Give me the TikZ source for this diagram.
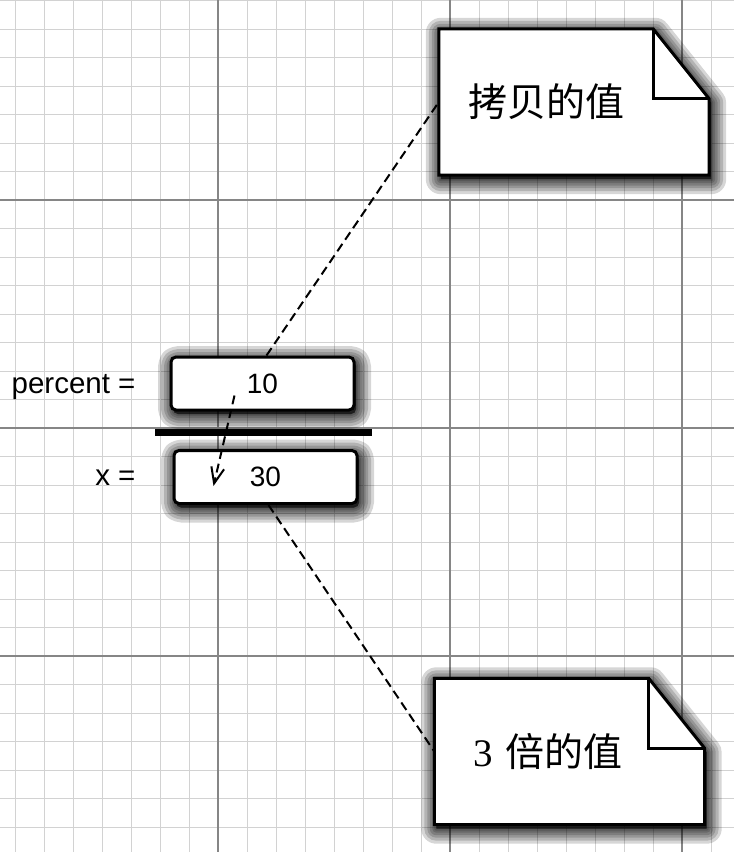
\documentclass[tikz,border=0pt]{standalone}
\usepackage{fontspec}
\setmainfont{Liberation Sans}
\newfontfamily\cjkfont{Noto Sans CJK SC}
\newfontfamily\digitfont{Liberation Serif}
\usepackage{tikz}
\usetikzlibrary{backgrounds,arrows.meta}

\begin{document}
\begin{tikzpicture}[x=1pt,y=-1pt,
halo/.style={preaction={draw=black,fill=black,line width=#1,line join=round,opacity=.16,transform canvas={shift={(2pt,-4pt)}}}},
boxshadow/.style={halo=30pt,halo=24pt,halo=18pt,halo=13pt,halo=8pt,halo=4pt},
valbox/.style={draw,line width=3pt,rounded corners=5pt,fill=white,minimum width=183pt,minimum height=53pt,font=\fontsize{28}{32}\selectfont,boxshadow},
notebox/.style={minimum width=270pt,minimum height=146pt,inner xsep=29pt,text width=212pt,align=left,font=\cjkfont\fontsize{39}{44}\selectfont},
noteline/.style={draw,line width=3pt,fill=white,boxshadow},
link/.style={line width=2pt,dash pattern=on 9pt off 5pt},
minorline/.style={color=gray!35,line width=1pt},
majorline/.style={color=gray!95,line width=1.6pt}
]
\useasboundingbox (0,0) rectangle (734,852);
\node[valbox] (pct) at (262.5,383.5) {10};
\node[valbox] (xval) at (265.5,477) {30};
\node[anchor=base east,font=\fontsize{29.5}{32}\selectfont] (pctlabel) at (139,393) {percent =};
\node[anchor=base east,font=\fontsize{29.5}{32}\selectfont] (xlabel) at (139,485) {x =};
\node[notebox] (copynote) at (574,102) {拷贝的值};
\node[notebox,inner xsep=38pt,text width=193pt] (triplenote) at (569.5,751.5) {{\digitfont 3} 倍的值};
\begin{scope}[on background layer]
\fill[white] (0,0) rectangle (734,852);
\foreach \x in {15,44,...,734} \draw[minorline] (\x,0) -- (\x,852);
\foreach \y in {0.5,29,...,852} \draw[minorline] (0,\y) -- (734,\y);
\foreach \x in {218,450,682} \draw[majorline] (\x,0) -- (\x,852);
\foreach \y in {200,428,656} \draw[majorline] (0,\y) -- (734,\y);
\foreach \n in {copynote,triplenote} {
\draw[noteline] (\n.north west) -- ([xshift=-56pt]\n.north east) -- ([yshift=-70pt]\n.north east) -- (\n.south east) -- (\n.south west) -- cycle;
\draw[line width=3pt] ([xshift=-56pt]\n.north east) |- ([yshift=-70pt]\n.north east);
}
\end{scope}
\draw[line width=7pt] (155,432) -- (372,432);
\draw[link] ([xshift=4pt]pct.north) -- (copynote.west);
\draw[link] ([xshift=3pt]xval.south) -- (triplenote.west);
\draw[link,-{Straight Barb[length=16pt,width=13pt]}] ([shift={(-28,12)}]pct.center) -- ([shift={(-52,9)}]xval.center);
\end{tikzpicture}
\end{document}
